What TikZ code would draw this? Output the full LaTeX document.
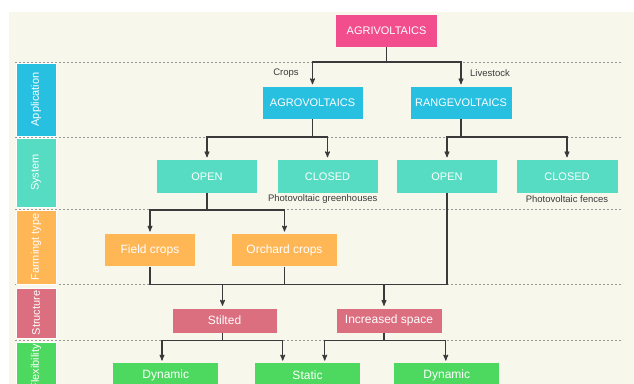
\documentclass[tikz,border=0pt]{standalone}
\usepackage{fontspec}
\setmainfont{Liberation Sans}
\usepackage{tikz}
\usetikzlibrary{arrows}
\usetikzlibrary{calc}
\definecolor{bg}{HTML}{F7F7EC}
\definecolor{pinkc}{HTML}{F24E8D}
\definecolor{cyanc}{HTML}{27C0E0}
\definecolor{tealc}{HTML}{55DCC2}
\definecolor{orangec}{HTML}{FFB655}
\definecolor{rosec}{HTML}{DB6E7F}
\definecolor{greenc}{HTML}{4DD960}
\definecolor{linec}{HTML}{3A3A3A}
\tikzset{b/.style={inner sep=0pt, minimum width=101pt, minimum height=32pt, text=white, font=\fontsize{11}{11}\selectfont}}
\tikzset{bl/.style={b, font=\fontsize{12}{12}\selectfont}}
\tikzset{s/.style={inner sep=0pt, minimum height=40pt, rotate=90, text=white, draw=white, line width=0.6pt, font=\fontsize{11}{11}\selectfont}}
\tikzset{l/.style={text=linec, font=\fontsize{9.5}{9.5}\selectfont}}
\tikzset{ln/.style={draw=linec, line width=1.1pt}}
\tikzset{c/.style={ln, -stealth', shorten >=2.5pt}}
\tikzset{d/.style={draw=gray!80, line width=0.8pt, dash pattern=on 2pt off 2pt}}

\begin{document}
\begin{tikzpicture}[x=1pt,y=-1pt]
  \useasboundingbox (0,0) rectangle (634,383);
  \clip (0,0) rectangle (634,383);
  \fill[bg] (9,12) rectangle (640,390);
  % separators
  \foreach \y in {62,137,209,284,340}
    \draw[d] (15,\y) -- (622,\y);
  % side column
  \node[s, fill=cyanc, minimum width=73pt] (app) at (36,99.5) {Application};
  \node[s, fill=tealc, minimum width=69pt] (sys) at (36,172.5) {System};
  \node[s, fill=orangec, minimum width=74pt] (farm) at (36,247) {Farmingt type};
  \node[s, fill=rosec, minimum width=50pt] (struc) at (36,313) {Structure};
  \node[s, fill=greenc, minimum width=50pt] (flex) at (36,367) {Flexibility};
  % boxes
  \node[b, fill=pinkc] (agri) at (386.5,31) {AGRIVOLTAICS};
  \node[b, fill=cyanc, minimum width=100pt] (agro) at (312.5,103) {AGROVOLTAICS};
  \node[b, fill=cyanc] (range) at (461,103) {RANGEVOLTAICS};
  \node[b, fill=tealc, minimum width=100pt, minimum height=33pt] (open1) at (207,176.5) {OPEN};
  \node[b, fill=tealc, minimum width=100pt, minimum height=33pt] (closed1) at (327.5,176.5) {CLOSED};
  \node[b, fill=tealc, minimum width=100pt, minimum height=33pt] (open2) at (447,176.5) {OPEN};
  \node[b, fill=tealc, minimum height=33pt] (closed2) at (567,176.5) {CLOSED};
  \node[bl, fill=orangec, minimum width=90pt] (field) at (150,250.3) {Field crops};
  \node[bl, fill=orangec, minimum width=105pt] (orchard) at (284.5,250.3) {Orchard crops};
  \node[bl, fill=rosec, minimum width=104pt, minimum height=24pt] (stilted) at (224.5,320.5) {Stilted};
  \node[bl, fill=rosec, minimum width=105pt, minimum height=24pt] (incr) at (389,320.5) {Increased space};
  \node[bl, fill=greenc, minimum width=105pt, minimum height=24pt] (dyn1) at (165.8,375.3) {Dynamic};
  \node[bl, fill=greenc, minimum width=105pt, minimum height=24pt] (static) at (307.5,375.3) {Static};
  \node[bl, fill=greenc, minimum width=105pt, minimum height=24pt] (dyn2) at (446.8,375.3) {Dynamic};
  % labels
  \node[l] (crops) at (286,73) {Crops};
  \node[l] (live) at (490,73) {Livestock};
  \node[l] (green) at (322.7,199) {Photovoltaic greenhouses};
  \node[l] (fence) at (567,199.3) {Photovoltaic fences};
  % connectors
  \coordinate (j1) at (386.5,62);
  \draw[c] (agri.south) -- (j1) -| (agro.north);
  \draw[c] (j1) -| (range.north);
  \coordinate (j2) at (312.5,137);
  \draw[c] (agro.south) -- (j2) -| (open1.north);
  \draw[c] (j2) -| (closed1.north);
  \coordinate (j3) at (461,137);
  \draw[c] (range.south) -- (j3) -| (open2.north);
  \draw[c] (j3) -| (closed2.north);
  \coordinate (j4) at (207,210);
  \draw[c] (open1.south) -- (j4) -| (field.north);
  \draw[c] (j4) -| (orchard.north);
  \coordinate (k3) at (447,284.3);
  \draw[ln] (field.south) |- (k3) -- (open2.south);
  \draw[ln] (orchard.south) -- (orchard.south |- k3);
  \coordinate (k1) at (222.5,284.3);
  \coordinate (k2) at (384,284.3);
  \draw[c] (k1) -- (k1 |- stilted.north);
  \draw[c] (k2) -- (k2 |- incr.north);
  \coordinate (m1) at (222.5,340.5);
  \draw[ln] (m1 |- stilted.south) -- (m1);
  \draw[c] (m1) -| ($(dyn1.north)+(-3.8,0)$);
  \draw[c] (m1) -| ($(static.north)+(-24.8,0)$);
  \coordinate (m2) at (384,340.5);
  \draw[ln] (m2 |- incr.south) -- (m2);
  \draw[c] (m2) -| ($(static.north)+(17.2,0)$);
  \draw[c] (m2) -| ($(dyn2.north)+(-1,0)$);
\end{tikzpicture}
\end{document}
